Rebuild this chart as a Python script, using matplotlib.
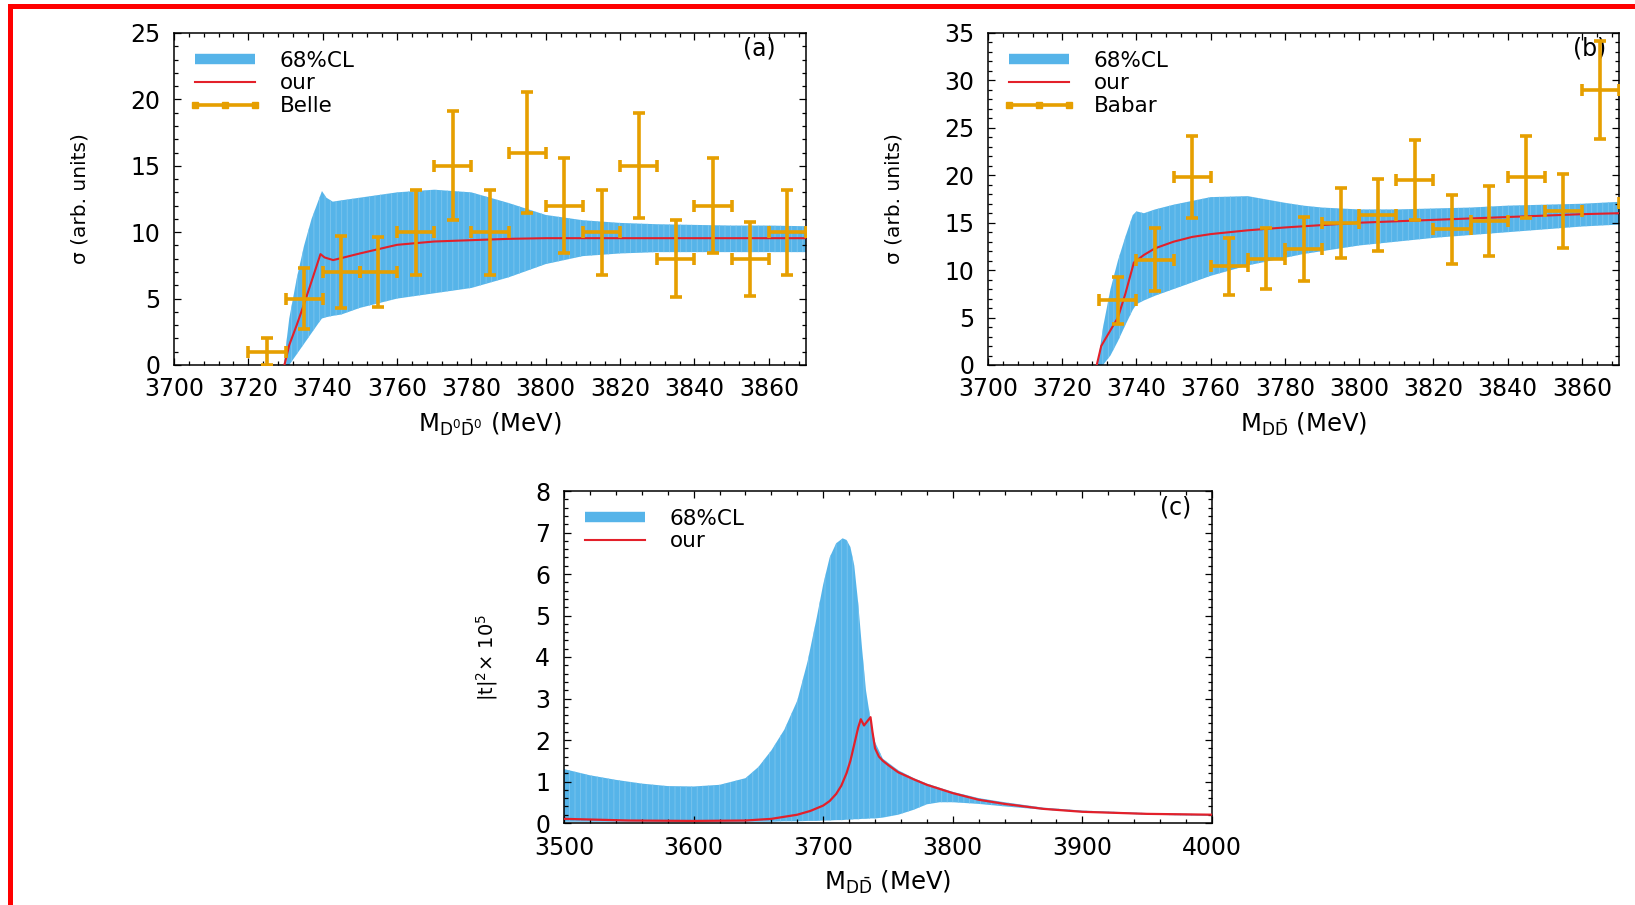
import matplotlib
matplotlib.use("Agg")
import matplotlib.pyplot as plt
from matplotlib.lines import Line2D
from matplotlib.patches import Rectangle
from matplotlib.ticker import MultipleLocator

plt.rcParams['font.family'] = ['DejaVu Sans']
plt.rcParams['mathtext.fontset'] = 'dejavusans'
plt.rcParams['hatch.linewidth'] = 0.6

BLUE = '#56b4e9'
STRIPE = '#7cc5ee'
RED = '#e3202a'
ORANGE = '#e69f00'
FS = 17
LEG_FS = 15.5

# ---- (a) D0 D0bar, Belle ----
band_a_x = [3729.5, 3731, 3733, 3735, 3737, 3739, 3739.8, 3741, 3742.7, 3745, 3750, 3760, 3770,
            3780, 3790, 3800, 3810, 3820, 3830, 3840, 3850, 3860, 3870]
band_a_hi = [0.0, 3.5, 6.5, 9.0, 11.0, 12.5, 13.1, 12.6, 12.3, 12.4, 12.6, 13.0, 13.2,
             13.0, 12.2, 11.3, 10.9, 10.7, 10.6, 10.55, 10.5, 10.5, 10.45]
band_a_lo = [0.0, 0.0, 0.8, 1.6, 2.4, 3.2, 3.5, 3.6, 3.7, 3.8, 4.3, 5.0, 5.4,
             5.8, 6.6, 7.6, 8.2, 8.4, 8.5, 8.5, 8.5, 8.5, 8.5]
red_a_x = [3729.7, 3731, 3733, 3735, 3737, 3739.4, 3740.5, 3742.8, 3745, 3750, 3760, 3770,
           3780, 3790, 3800, 3820, 3840, 3870]
red_a_y = [0.0, 1.5, 3.0, 4.6, 6.3, 8.35, 8.1, 7.9, 8.05, 8.4, 9.05, 9.3,
           9.4, 9.5, 9.55, 9.55, 9.55, 9.55]
belle_x = [3725, 3735, 3745, 3755, 3765, 3775, 3785, 3795, 3805, 3815, 3825, 3835, 3845, 3855, 3865]
belle_y = [1.0, 5.0, 7.0, 7.0, 10.0, 15.0, 10.0, 16.0, 12.0, 10.0, 15.0, 8.0, 12.0, 8.0, 10.0]
belle_err = [1.0, 2.3, 2.7, 2.65, 3.2, 4.1, 3.2, 4.55, 3.6, 3.2, 3.95, 2.9, 3.6, 2.8, 3.2]

# ---- (b) D Dbar, Babar ----
band_b_x = [3729.5, 3731, 3733, 3735, 3737, 3739, 3740, 3742, 3745, 3750, 3760, 3770, 3780,
            3785, 3790, 3800, 3810, 3820, 3830, 3840, 3850, 3860, 3870]
band_b_hi = [0.0, 4.0, 8.0, 11.0, 13.5, 15.8, 16.2, 16.0, 16.4, 16.9, 17.7, 17.8, 17.1,
             16.8, 16.6, 16.4, 16.4, 16.5, 16.6, 16.8, 16.9, 17.0, 17.2]
band_b_lo = [0.0, 0.0, 1.0, 2.5, 4.2, 5.8, 6.4, 6.8, 7.3, 8.0, 9.4, 10.5, 11.3,
             11.7, 12.0, 12.6, 13.0, 13.4, 13.7, 14.0, 14.3, 14.6, 14.8]
red_b_x = [3729.3, 3730.5, 3732, 3735, 3737, 3739.3, 3742, 3745, 3750, 3755, 3760, 3770,
           3780, 3790, 3800, 3820, 3840, 3860, 3870]
red_b_y = [0.0, 2.0, 3.0, 5.0, 7.5, 10.8, 11.6, 12.3, 13.0, 13.5, 13.8, 14.2,
           14.5, 14.75, 15.0, 15.3, 15.6, 15.9, 16.0]
babar_x = [3735, 3745, 3755, 3765, 3775, 3785, 3795, 3805, 3815, 3825, 3835, 3845, 3855, 3865, 3875]
babar_y = [6.8, 11.1, 19.8, 10.4, 11.2, 12.25, 15.0, 15.85, 19.5, 14.3, 15.2, 19.8, 16.2, 29.0, 17.1]
babar_err = [2.5, 3.3, 4.3, 3.0, 3.2, 3.4, 3.7, 3.8, 4.2, 3.6, 3.7, 4.3, 3.9, 5.2, 3.8]

# ---- (c) |t|^2 ----
band_c_x = [3500, 3520, 3540, 3560, 3580, 3600, 3620, 3640, 3650, 3660, 3670, 3680, 3688, 3695,
            3700, 3705, 3710, 3715, 3718, 3721, 3724, 3727, 3730, 3733, 3737, 3740, 3746, 3758,
            3770, 3780, 3790, 3800, 3820, 3840, 3870, 3900, 3950, 4000]
band_c_hi = [1.30, 1.15, 1.04, 0.95, 0.89, 0.88, 0.92, 1.08, 1.35, 1.75, 2.25, 2.95, 3.90, 4.95,
             5.75, 6.40, 6.74, 6.86, 6.82, 6.65, 6.20, 5.30, 4.20, 3.20, 2.40, 1.95, 1.55, 1.27,
             1.08, 0.95, 0.85, 0.75, 0.60, 0.50, 0.37, 0.30, 0.24, 0.21]
band_c_lo = [0.03, 0.03, 0.03, 0.03, 0.03, 0.03, 0.03, 0.03, 0.03, 0.03, 0.04, 0.04, 0.05, 0.05,
             0.06, 0.06, 0.07, 0.07, 0.08, 0.08, 0.09, 0.09, 0.10, 0.10, 0.11, 0.11, 0.13, 0.20,
             0.32, 0.45, 0.50, 0.50, 0.46, 0.40, 0.32, 0.26, 0.20, 0.17]
red_c_x = [3500, 3550, 3600, 3640, 3660, 3680, 3690, 3700, 3705, 3710, 3714, 3718, 3721, 3724,
           3727, 3729, 3731.5, 3734, 3736.5, 3738, 3740, 3743, 3746, 3750, 3758, 3770, 3780,
           3800, 3820, 3840, 3870, 3900, 3950, 4000]
red_c_y = [0.10, 0.06, 0.05, 0.06, 0.10, 0.20, 0.29, 0.42, 0.53, 0.70, 0.90, 1.20, 1.50, 1.90,
           2.30, 2.50, 2.35, 2.45, 2.55, 2.20, 1.80, 1.60, 1.50, 1.40, 1.22, 1.05, 0.92,
           0.72, 0.56, 0.46, 0.34, 0.27, 0.22, 0.20]

W, H = 1635, 905
fig = plt.figure(figsize=(W / 100, H / 100), dpi=100)
fig.patch.set_facecolor('white')


def box(left, top, right, bottom):
    return [left / W, 1 - bottom / H, (right - left) / W, (bottom - top) / H]


def style(ax, xmaj, xmin, ymaj, ymin):
    ax.xaxis.set_major_locator(MultipleLocator(xmaj))
    ax.xaxis.set_minor_locator(MultipleLocator(xmin))
    ax.yaxis.set_major_locator(MultipleLocator(ymaj))
    ax.yaxis.set_minor_locator(MultipleLocator(ymin))
    ax.tick_params(which='both', direction='in', top=True, right=True, width=0.9, labelsize=FS)
    ax.tick_params(which='major', length=5)
    ax.tick_params(which='minor', length=3)
    ax.tick_params(axis='x', pad=9)
    ax.tick_params(axis='y', pad=10)
    for s in ax.spines.values():
        s.set_linewidth(1.1)


def band(ax, x, lo, hi):
    ax.fill_between(x, lo, hi, facecolor=BLUE, edgecolor=STRIPE, linewidth=0,
                    hatch='|||', zorder=1)


def legend(ax, handles, labels, w_px):
    # anchor a few pixels inside the top-left corner of the frame
    ax.legend(handles, labels, loc='upper left',
              bbox_to_anchor=(5.5 / w_px, 1 - 9.0 / 332), borderaxespad=0,
              borderpad=0.4, frameon=False, fontsize=LEG_FS, handlelength=3.4,
              handletextpad=0.84, labelspacing=0.13, numpoints=3)


h_band = Line2D([], [], color=BLUE, lw=7.5, solid_capstyle='butt')
h_red = Line2D([], [], color=RED, lw=1.5)
h_err = Line2D([], [], color=ORANGE, lw=2.6, marker='s', markersize=4)

sigma_label = 'σ (arb. units)'

# (a)
ax = fig.add_axes(box(174, 33, 806, 365))
band(ax, band_a_x, band_a_lo, band_a_hi)
ax.plot(red_a_x, red_a_y, color=RED, lw=1.5, zorder=3)
ax.errorbar(belle_x, belle_y, xerr=5, yerr=belle_err, fmt='none', ecolor=ORANGE,
            elinewidth=2.6, capsize=4, capthick=2.6, zorder=4)
ax.set_xlim(3700, 3870)
ax.set_ylim(0, 25)
style(ax, 20, 4, 5, 1)
ax.set_ylabel(sigma_label, fontsize=14.5, labelpad=29)
ax.set_xlabel(r'M$_{\mathrm{D^0\bar{D}^0}}$ (MeV)', fontsize=17.5, labelpad=7)
ax.text(0.926, 0.952, '(a)', transform=ax.transAxes, ha='center', va='center', fontsize=FS,
        zorder=2)
legend(ax, [h_band, h_red, h_err], ['68%CL', 'our', 'Belle'], 632)

# (b)
ax = fig.add_axes(box(988, 33, 1619, 365))
band(ax, band_b_x, band_b_lo, band_b_hi)
ax.plot(red_b_x, red_b_y, color=RED, lw=1.5, zorder=3)
ax.errorbar(babar_x, babar_y, xerr=5, yerr=babar_err, fmt='none', ecolor=ORANGE,
            elinewidth=2.6, capsize=4, capthick=2.6, zorder=4)
ax.set_xlim(3700, 3870)
ax.set_ylim(0, 35)
style(ax, 20, 4, 5, 1)
ax.set_ylabel(sigma_label, fontsize=14.5, labelpad=29)
ax.set_xlabel(r'M$_{\mathrm{D\bar{D}}}$ (MeV)', fontsize=17.5, labelpad=7)
ax.text(0.953, 0.952, '(b)', transform=ax.transAxes, ha='center', va='center', fontsize=FS,
        zorder=2)
legend(ax, [h_band, h_red, h_err], ['68%CL', 'our', 'Babar'], 631)

# (c)
ax = fig.add_axes(box(564, 491, 1212, 823))
band(ax, band_c_x, band_c_lo, band_c_hi)
ax.plot(red_c_x, red_c_y, color=RED, lw=1.6, zorder=3)
ax.set_xlim(3500, 4000)
ax.set_ylim(0, 8)
style(ax, 100, 20, 1, 0.2)
ax.set_ylabel(r'|t|$^2$× 10$^5$', fontsize=14, labelpad=25)
ax.set_xlabel(r'M$_{\mathrm{D\bar{D}}}$ (MeV)', fontsize=17.5, labelpad=7)
ax.text(0.944, 0.949, '(c)', transform=ax.transAxes, ha='center', va='center', fontsize=FS,
        zorder=2)
legend(ax, [h_band, h_red], ['68%CL', 'our'], 648)

# red frame along the top and left edge
fig.patches.append(Rectangle((8 / W, 0), 5 / W, (H - 4) / H, transform=fig.transFigure,
                             facecolor='red', edgecolor='none'))
fig.patches.append(Rectangle((8 / W, 1 - 9 / H), 1 - 8 / W, 5 / H, transform=fig.transFigure,
                             facecolor='red', edgecolor='none'))

fig.savefig('out.png', dpi=100)
